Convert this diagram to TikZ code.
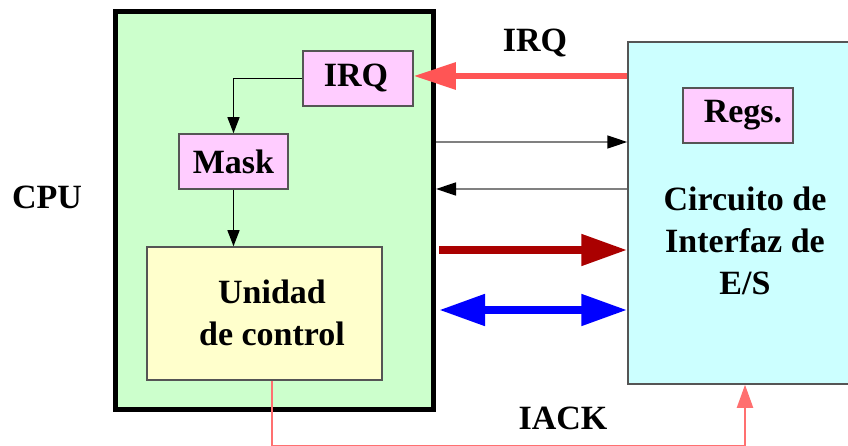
\documentclass[tikz,border=0pt]{standalone}
\usepackage{fontspec}
\setmainfont{Liberation Serif}
\usetikzlibrary{arrows.meta,calc}
\definecolor{cpugreen}{HTML}{CCFFCC}
\definecolor{boxpink}{HTML}{FFCCFF}
\definecolor{boxyellow}{HTML}{FFFFCC}
\definecolor{boxcyan}{HTML}{CCFFFF}
\definecolor{irqred}{HTML}{FF5555}
\definecolor{datared}{HTML}{AA0000}
\definecolor{ackred}{HTML}{FF7070}
\definecolor{edgegray}{HTML}{555555}
\tikzset{
  txt/.style={font=\fontsize{34}{42}\selectfont\bfseries, align=center, inner sep=0pt},
  regbox/.style={draw=edgegray, line width=1.5pt, fill=boxpink, inner sep=0pt, anchor=center},
  thinarrow/.style={draw=gray, line width=1.5pt, -{Triangle[length=20pt,width=13pt,color=black]}},
  fatarrow/.style={line width=8pt, -{Triangle[length=46pt,width=30pt]}},
}
\begin{document}
\begin{tikzpicture}[x=1pt,y=-1pt]
\useasboundingbox (0,0) rectangle (848,446);
% CPU
\node[draw=black, line width=5pt, fill=cpugreen, minimum width=318pt, minimum height=398pt, inner sep=0pt] (cpu) at (274.5,210.5) {};
\node[txt] (cpulabel) at (47,197) {CPU};
% interface
\node[draw=edgegray, line width=1.5pt, fill=boxcyan, minimum width=242pt, minimum height=342pt, inner sep=0pt] (ifz) at (749,213) {};
\node[regbox, minimum width=110pt, minimum height=55pt] (regs) at (738,115.5) {};
\node[txt] (regstext) at (743,115.5) {Regs.};
\node[txt] (iftext) at (745,241) {Circuito de\\Interfaz de\\E/S};
% inner boxes
\node[regbox, minimum width=110pt, minimum height=55pt] (irq) at (358,78.5) {};
\node[txt] (irqtext) at (356,78.5) {IRQ};
\node[regbox, minimum width=109pt, minimum height=55pt] (mask) at (233.5,161.5) {};
\node[txt] (masktext) at (233.5,161.5) {Mask};
\node[draw=edgegray, line width=1.5pt, fill=boxyellow, minimum width=235pt, minimum height=133pt, inner sep=0pt] (uc) at (264.5,313.5) {};
\node[txt] (uctext) at (272,313) {Unidad\\de control};
% internal arrows
\draw[line width=1.2pt, -{Triangle[length=16pt,width=12pt]}] (irq.west) -| (mask.north);
\draw[line width=1.2pt, -{Triangle[length=16pt,width=12pt]}] (mask.south) -- (mask.south |- uc.north);
% IRQ line
\draw[irqred, line width=6pt, -{Triangle[length=42pt,width=26pt]}] (ifz.west |- 0,76) -- (irq.east |- 0,76);
\node[txt] (irqlabel) at (535,43) {IRQ};
% thin arrows
\draw[thinarrow] (cpu.east |- 0,142) -- (ifz.west |- 0,142);
\draw[thinarrow] (ifz.west |- 0,189) -- (cpu.east |- 0,189);
% data arrows
\draw[datared, fatarrow] ($(cpu.east |- 0,250)+(3,0)$) -- (ifz.west |- 0,250);
\draw[blue, line width=8pt, {Triangle[length=46pt,width=30pt]}-{Triangle[length=46pt,width=30pt]}] ($(cpu.east |- 0,310)+(3,0)$) -- (ifz.west |- 0,310);
% IACK
\coordinate (ackcorner) at (272,446);
\draw[ackred, line width=2pt, -{Triangle[length=23pt,width=16pt]}] (uc.south -| 272,0) -- (ackcorner) -| (ifz.south -| 745,0);
\node[txt] (iacklabel) at (563,418) {IACK};
\end{tikzpicture}
\end{document}
